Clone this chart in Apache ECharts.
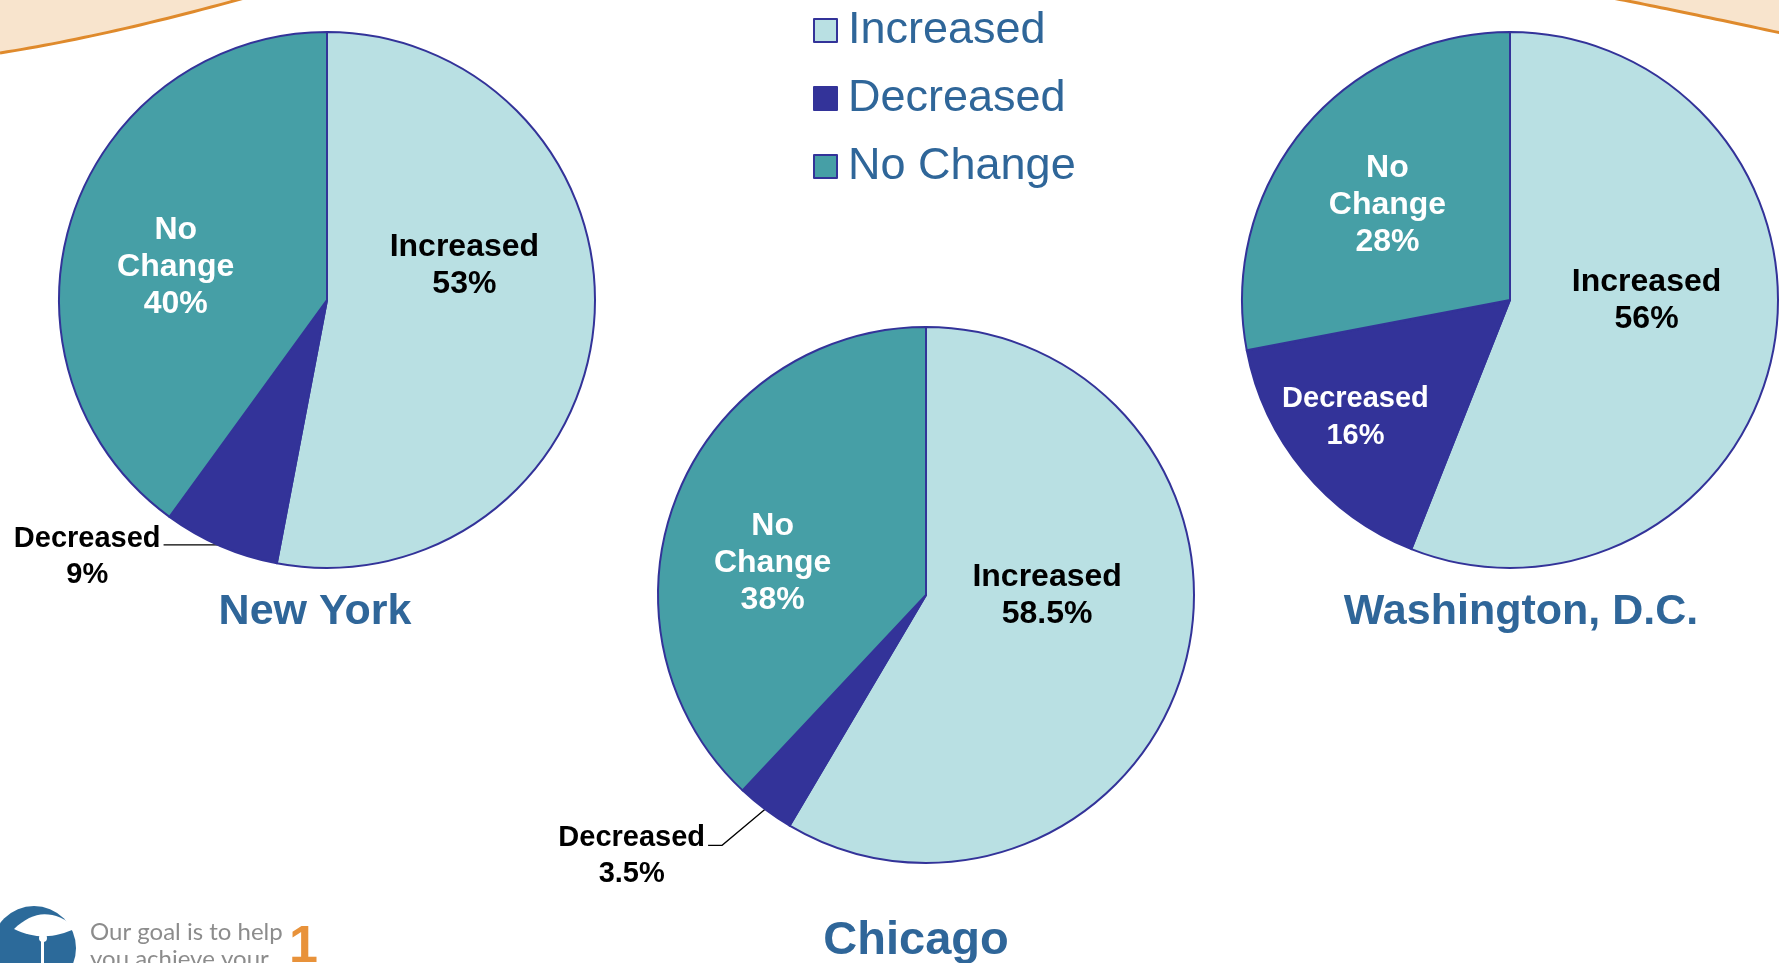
<!DOCTYPE html>
<html>
<head>
<meta charset="utf-8">
<title>Change by city</title>
<script src="https://cdn.jsdelivr.net/npm/echarts@6/dist/echarts.min.js"></script>
<style>
  html, body { margin: 0; padding: 0; background: #fff; }
  #chart { width: 1779px; height: 963px; }
</style>
</head>
<body>
<div id="chart"></div>
<script>
const categories = ['Increased', 'Decreased', 'No Change']
const cities = ['New York', 'Chicago', 'Washington, D.C.']

// slice sizes as drawn
const newYorkValues = [53, 7, 40]
const chicagoValues = [58.5, 3.5, 38]
const washingtonValues = [56, 16, 28]

// percentages printed on the slices
const newYorkLabels = [53, 9, 40]
const chicagoLabels = [58.5, 3.5, 38]
const washingtonLabels = [56, 16, 28]

const colors = ['#B9E0E3', '#333399', '#469FA6']
const sliceNames = ['Increased', 'Decreased', 'No\nChange']
const fontSizes = [32, 29, 32]
const font = '"Liberation Sans", Arial, Helvetica, sans-serif'
const titleColor = '#2F6699'

// nudges for the labels: [dx, dy] for inside ones,
// {bend, tail, shift} for an outside label whose leader line is reshaped
const nyOffsets = [[1, -47], { bend: [-2, -1], tail: 55, shift: 4 }, [-21, 10]]
const chiOffsets = [[-11, -35], { bend: [-43, 36], tail: 14, shift: 3 }, [-26, 19]]
const dcOffsets = [[2, -25], [-49, 30], [-17, -8]]

function buildData(values, labels, outsideIndex, line) {
  return values.map((v, i) => {
    let item = {
      name: categories[i],
      value: v,
      itemStyle: { color: colors[i] },
    }
    if (i === outsideIndex) {
      item.label = {
        show: true,
        position: 'outside',
        padding: [16, 0, 0, 0],
        distanceToLabelLine: 3,
        formatter: '{t|' + categories[i] + '}\n{t|' + labels[i] + '%}',
        rich: {
          t: {
            align: 'center',
            color: '#000',
            fontSize: fontSizes[i],
            fontWeight: 'bold',
            fontFamily: font,
            lineHeight: 36,
          },
        },
      }
      item.labelLine = {
        show: true,
        length: line[0],
        length2: line[1],
        smooth: false,
        lineStyle: { color: '#000', width: 1.3 },
      }
    } else {
      item.label = {
        show: true,
        position: 'inside',
        color: i === 0 ? '#000' : '#fff',
        fontSize: fontSizes[i],
        fontWeight: 'bold',
        fontFamily: font,
        lineHeight: 37,
        formatter: sliceNames[i] + '\n' + labels[i] + '%',
      }
    }
    return item
  })
}

function pie(name, center, data, offsets) {
  return {
    name: name,
    type: 'pie',
    center: center,
    radius: 268,
    startAngle: 90,
    clockwise: true,
    avoidLabelOverlap: false,
    silent: true,
    itemStyle: { borderColor: '#333399', borderWidth: 2 },
    labelLine: { show: false },
    labelLayout: (p) => {
      let o = offsets[p.dataIndex]
      if (!o) return {}
      if (o.bend && p.labelLinePoints) {
        let pts = p.labelLinePoints
        let a = pts[0]
        let b = [a[0] + o.bend[0], a[1] + o.bend[1]]
        let c = [b[0] - o.tail, b[1]]
        return {
          labelLinePoints: [a, b, c],
          dx: c[0] - pts[2][0],
          dy: c[1] - pts[2][1] + o.shift,
        }
      }
      return { dx: o[0], dy: o[1] }
    },
    data: data,
  }
}

// quadratic curve points for the slide's orange swoosh corners
function quad(p0, p1, p2, n) {
  let pts = []
  for (let k = 0; k <= n; k++) {
    let t = k / n
    let a = (1 - t) * (1 - t), b = 2 * (1 - t) * t, c = t * t
    pts.push([a * p0[0] + b * p1[0] + c * p2[0], a * p0[1] + b * p1[1] + c * p2[1]])
  }
  return pts
}
const leftCurve = quad([0, 53], [108, 36], [248, -3], 30)
const rightCurve = quad([1602, -4], [1665, 8], [1781, 33], 30)
const lensTop = quad([14, 929], [44, 900], [76, 928], 16)
const lensBottom = quad([76, 928], [44, 944], [14, 929], 16)

function titleText(text, x, y, size) {
  return {
    type: 'text',
    x: x,
    y: y,
    style: {
      text: text,
      fill: titleColor,
      font: 'bold ' + size + 'px ' + font,
      textAlign: 'center',
      textVerticalAlign: 'middle',
      align: 'center',
      verticalAlign: 'middle',
    },
  }
}

let mychart = echarts.init(document.getElementById('chart'))
let option = {
  backgroundColor: '#fff',
  animation: false,
  legend: {
    data: categories,
    orient: 'vertical',
    left: 808,
    top: 3,
    icon: 'rect',
    itemWidth: 23,
    itemHeight: 23,
    itemGap: 23,
    textStyle: {
      color: titleColor,
      fontSize: 45,
      fontFamily: font,
      padding: [0, 0, 0, 6],
    },
    selectedMode: false,
  },
  series: [
    pie(cities[0], [327, 300], buildData(newYorkValues, newYorkLabels, 1, [2, 55]), nyOffsets),
    pie(cities[1], [926, 595], buildData(chicagoValues, chicagoLabels, 1, [45, 14]), chiOffsets),
    pie(cities[2], [1510, 300], buildData(washingtonValues, washingtonLabels, -1, [0, 0]), dcOffsets),
  ],
  graphic: [
    {
      type: 'polygon',
      z: -1,
      shape: { points: [[0, -10]].concat(leftCurve, [[248, -10]]) },
      style: { fill: '#F8E4CD' },
    },
    {
      type: 'polyline',
      shape: { points: leftCurve },
      style: { stroke: '#DF8A2C', lineWidth: 3, fill: null },
    },
    {
      type: 'polygon',
      z: -1,
      shape: { points: [[1602, -10]].concat(rightCurve, [[1781, -10]]) },
      style: { fill: '#F8E4CD' },
    },
    {
      type: 'polyline',
      shape: { points: rightCurve },
      style: { stroke: '#DF8A2C', lineWidth: 3, fill: null },
    },
    titleText(cities[0], 315, 612, 43),
    titleText(cities[1], 916, 941, 47),
    titleText(cities[2], 1521, 612, 43),
    // company logo strip, bottom left
    { type: 'circle', shape: { cx: 34, cy: 948, r: 42 }, style: { fill: '#2C6A9A' } },
    { type: 'polygon', shape: { points: lensTop.concat(lensBottom) }, style: { fill: '#fff' } },
    { type: 'circle', shape: { cx: 43, cy: 938, r: 4 }, style: { fill: '#fff' } },
    { type: 'rect', shape: { x: 41, y: 938, width: 3, height: 30 }, style: { fill: '#fff' } },
    {
      type: 'text',
      x: 90,
      y: 919,
      style: {
        text: 'Our goal is to help\nyou achieve your',
        fill: '#8C8C8C',
        font: '24px Lato, "Open Sans", sans-serif',
        lineHeight: 27,
      },
    },
    {
      type: 'text',
      x: 289,
      y: 922,
      style: { text: '1', fill: '#E8923A', font: 'bold 52px ' + font },
    },
  ],
}
mychart.setOption(option)
window.addEventListener('resize', () => {
  mychart.resize()
})
</script>
</body>
</html>
